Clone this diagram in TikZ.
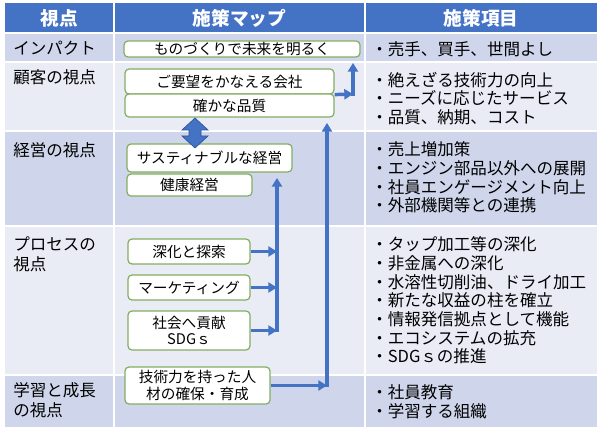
\documentclass[tikz,border=0pt]{standalone}
\usepackage{fontspec}
\setmainfont{Noto Sans CJK JP}
\usepackage{tikz}
\usetikzlibrary{arrows.meta,positioning}
\definecolor{cabazul}{HTML}{4472C4}
\definecolor{filaosc}{HTML}{CFD5EA}
\definecolor{filacla}{HTML}{E9EBF5}
\definecolor{bordeverde}{HTML}{82AE62}
\definecolor{flecha}{HTML}{4472C4}
\definecolor{flechaosc}{HTML}{2F5597}
\tikzset{
  cabecera/.style={font=\fontsize{14}{16}\selectfont\bfseries,text=white,inner sep=0pt},
  vista/.style={anchor=west,align=left,inner sep=0pt,font=\fontsize{12.4}{15}\selectfont},
  items/.style={anchor=west,align=left,inner sep=0pt,font=\fontsize{12.4}{14}\selectfont},
  medida/.style={draw=bordeverde,fill=white,rounded corners=3pt,line width=0.9pt,inner sep=0pt,align=center,font=\fontsize{11}{12.5}\selectfont},
  separa/.style={draw=white,line width=1.2pt},
  flujo/.style={draw=flecha,line width=2.6pt,-{Triangle[length=6.5pt,width=7.5pt]}},
  tronco/.style={draw=flecha,line width=2.6pt,line cap=rect,shorten >=4pt,-{Triangle[length=6.5pt,width=7.5pt]}},
  enlace/.style={fill=flecha,draw=flechaosc,line width=0.5pt},
}

\begin{document}
\begin{tikzpicture}[x=0.75pt,y=-0.75pt]
\useasboundingbox (0,0) rectangle (600,431);
% filas de la tabla
\fill[cabazul] (5,3) rectangle (597,33);
\foreach \ya/\yb/\col in {33/62/filaosc,62/131/filacla,131/226/filaosc,226/375/filacla,375/427/filaosc}
  \fill[\col] (5,\ya) rectangle (597,\yb);
\foreach \xx in {114,365}
  \draw[separa] (\xx,3) -- (\xx,427);
\foreach \yy in {33,62,131,226,375}
  \draw[separa] (5,\yy) -- (597,\yy);
% cabecera
\node[cabecera] (cab1) at (59.5,18) {視点};
\node[cabecera] (cab2) at (239.5,18) {施策マップ};
\node[cabecera] (cab3) at (481,18) {施策項目};
% columna de vistas
\node[vista] (v1) at (13,48) {インパクト};
\node[vista] (v2) at (13,77) {顧客の視点};
\node[vista] (v3) at (13,150) {経営の視点};
\node[vista] (v4) at (13,254) {プロセスの\\視点};
\node[vista] (v5) at (13,400) {学習と成長\\の視点};
% columna de items
\node[items] (i1) at (371,49) {・売手、買手、世間よし};
\node[items] (i2) at (371,98.5) {・絶えざる技術力の向上\\・ニーズに応じたサービス\\・品質、納期、コスト};
\node[items] (i3) at (371,177.5) {・売上増加策\\・エンジン部品以外への展開\\・社員エンゲージメント向上\\・外部機関等との連携};
\node[items] (i4) at (371,300.5) {・タップ加工等の深化\\・非金属への深化\\・水溶性切削油、ドライ加工\\・新たな収益の柱を確立\\・情報発信拠点として機能\\・エコシステムの拡充\\・SDGｓの推進};
\node[items] (i5) at (371,402) {・社員教育\\・学習する組織};
% mapa de medidas
\node[medida,minimum width=177pt,minimum height=12pt] (imp) at (242,49) {ものづくりで未来を明るく};
\node[medida,minimum width=156.75pt,minimum height=18.75pt] (cli1) at (229.5,81.5) {ご要望をかなえる会社};
\node[medida,minimum width=156.75pt,minimum height=17.25pt] (cli2) at (229.5,105.5) {確かな品質};
\node[medida,minimum width=123.75pt,minimum height=21pt] (ges1) at (209.5,158) {サスティナブルな経営};
\node[medida,minimum width=93.75pt,minimum height=16.5pt] (ges2) at (189.5,185) {健康経営};
\node[medida,minimum width=91.5pt,minimum height=18.75pt] (pro1) at (189,251.5) {深化と探索};
\node[medida,minimum width=91.5pt,minimum height=18.75pt] (pro2) at (189,287.5) {マーケティング};
\node[medida,minimum width=91.5pt,minimum height=29.25pt] (pro3) at (189,330.5) {社会へ貢献\\SDGｓ};
\node[medida,minimum width=108.75pt,minimum height=27.75pt] (apr) at (197.5,385.5) {技術力を持った人\\材の確保・育成};
% doble flecha entre clientes y gestion
\draw[enlace] (195,118) -- (208,130) -- (201,130) -- (201,136) -- (208,136) -- (195,148)
  -- (182,136) -- (189,136) -- (189,130) -- (182,130) -- cycle;
% conexiones
\coordinate (ejeSup) at (353,94);
\coordinate (ejeMed) at (277,290);
\coordinate (ejeInf) at (327,385.5);
\draw[flujo] (cli1.south east) -- (ejeSup);
\draw[tronco] (ejeSup) -- (ejeSup |- imp.south);
\draw[flujo] (pro1.east) -- (ejeMed |- pro1.east);
\draw[flujo] (pro2.east) -- (ejeMed |- pro2.east);
\draw[flujo] (pro3.east) -- (ejeMed |- pro3.east);
\draw[tronco] (ejeMed |- pro3.east) -- (ejeMed |- ges1.south);
\draw[flujo] (apr.east) -- (ejeInf);
\draw[tronco] (ejeInf) -- (ejeInf |- cli2.south);
\end{tikzpicture}
\end{document}
